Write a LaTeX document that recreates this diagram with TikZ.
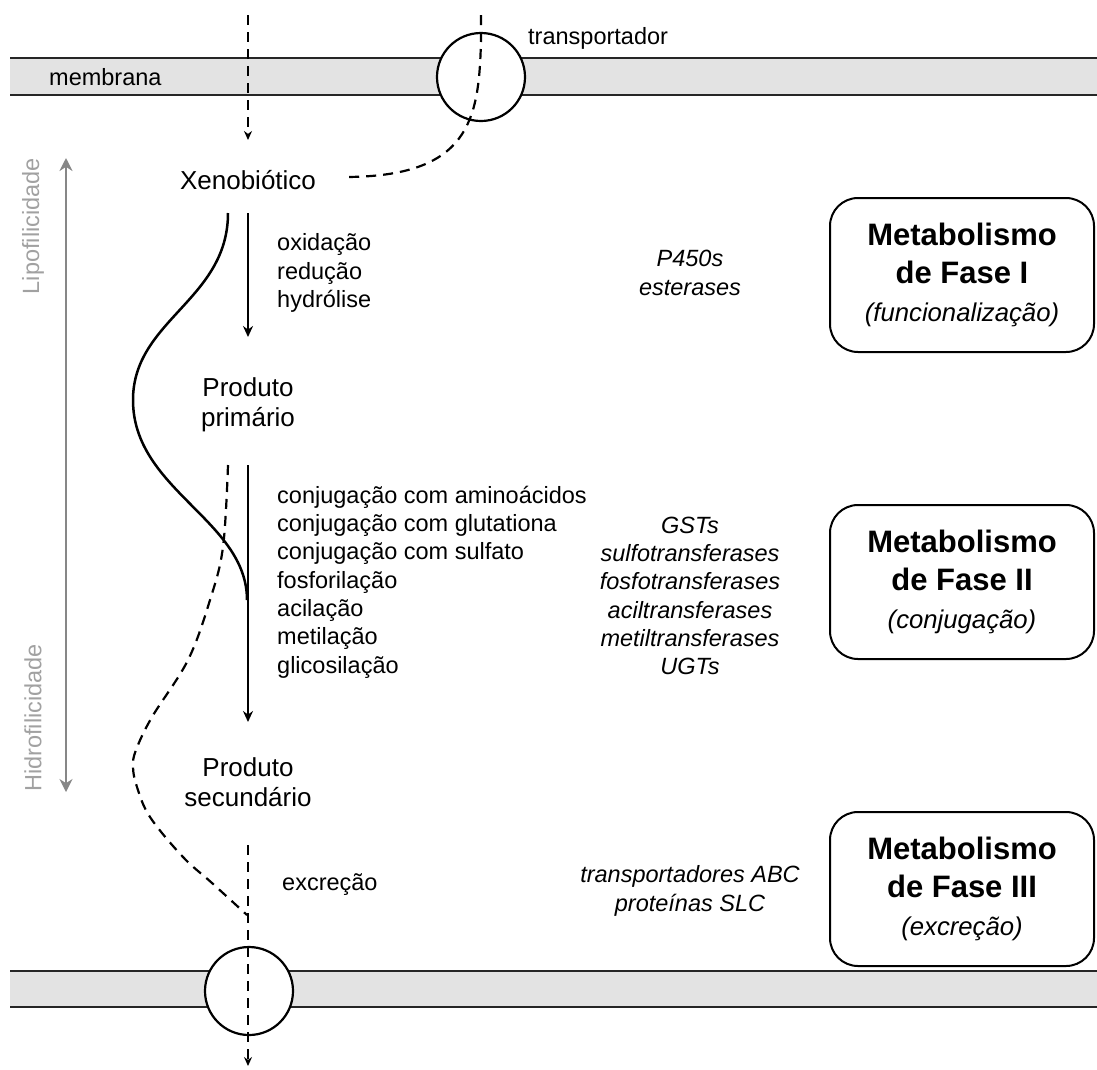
\documentclass[tikz,border=0pt]{standalone}
\usepackage{fontspec}
\setmainfont{Liberation Sans}
\usetikzlibrary{arrows.meta,calc,positioning}

\tikzset{
  rotulo/.style={font=\fontsize{23.5}{28.3}\selectfont, inner sep=0pt},
  enzima/.style={font=\fontsize{23.5}{28.3}\selectfont\itshape, inner sep=0pt, align=center},
  estado/.style={font=\fontsize{26}{30.5}\selectfont, inner sep=0pt, align=center},
  fase/.style={draw, line width=2pt, rounded corners=28pt, minimum width=264pt,
    minimum height=154pt, align=center, inner sep=0pt, font=\fontsize{31}{38}\selectfont\bfseries},
  seta/.style={line width=2pt, -{Stealth[length=11pt,width=10pt]}},
  tracejado/.style={line width=2.2pt, dash pattern=on 10pt off 7pt},
  pontaT/.style={-{Stealth[length=9pt,width=8pt]}},
  canal/.style={circle, draw, fill=white, line width=2.2pt, minimum size=88pt, inner sep=0pt},
  membrana/.style={line width=2.5pt, draw=black!85},
}
\newcommand{\subtit}[1]{{\fontsize{25.7}{33}\selectfont\mdseries\itshape #1}}

\begin{document}
\begin{tikzpicture}[x=1pt,y=-1pt]
\useasboundingbox (0,0) rectangle (1097,1069);
% membranas
\fill[black!11] (10,58) rectangle (1097,95);
\draw[membrana] (10,58) -- (1097,58) (10,95) -- (1097,95);
\fill[black!11] (10,971) rectangle (1097,1007);
\draw[membrana] (10,971) -- (1097,971) (10,1007) -- (1097,1007);
\node[rotulo, anchor=west] (memb) at (49,77) {membrana};

% canais
\node[canal] (canal1) at (481,77) {};
\node[canal] (canal2) at (249,991) {};
\node[rotulo, anchor=west] (transp) at (528,38) {transportador};

% estados
\node[estado] (xeno) at (248,180) {Xenobiótico};
\node[estado] (prim) at (248,405) {Produto\\primário};
\node[estado] (sec) at (248,782) {Produto\\secundário};

% reacoes
\node[rotulo, anchor=west, align=left] (reac1) at (277,273) {oxidação\\redução\\hydrólise};
\node[rotulo, anchor=west, align=left] (reac2) at (277,582) {conjugação com aminoácidos\\conjugação com glutationa\\conjugação com sulfato\\fosforilação\\acilação\\metilação\\glicosilação};
\node[rotulo, anchor=west] (excr) at (282,885) {excreção};

% enzimas
\node[enzima] (enz1) at (690,273) {P450s\\esterases};
\node[enzima] (enz2) at (690,596) {GSTs\\sulfotransferases\\fosfotransferases\\aciltransferases\\metiltransferases\\UGTs};
\node[enzima] (enz3) at (690,891) {transportadores ABC\\proteínas SLC};

% fases
\node[fase] (fase1) at (962,275) {Metabolismo\\de Fase I\\\subtit{(funcionalização)}};
\node[fase] (fase2) at (962,582) {Metabolismo\\de Fase II\\\subtit{(conjugação)}};
\node[fase] (fase3) at (962,889) {Metabolismo\\de Fase III\\\subtit{(excreção)}};

% setas
\draw[seta] ($(xeno)+(0,33)$) -- ($(prim)+(0,-68)$);
\draw[seta] ($(prim)+(0,60)$) -- ($(sec)+(0,-60)$);
\coordinate (entrada) at (248,15);
\draw[tracejado, pontaT] (entrada) -- ($(xeno)+(0,-40)$);
\coordinate (topo) at (481,15);
\draw[tracejado] (topo) -- (481,40) .. controls (479,120) and (470,177) .. ($(xeno)+(96,-3)$);
\coordinate (saida) at (248,1066);
\draw[tracejado, pontaT] ($(sec)+(0,63)$) -- (saida);

% curvas
\draw[line width=2.5pt] (228,213) .. controls (228,300) and (133,320) .. (133,400)
  .. controls (133,490) and (247,520) .. (247,600);
\draw[tracejado] plot[smooth, tension=0.6] coordinates {(228,465) (223,547) (210,600) (188,660)
  (152,717) (136,750) (133,767) (137,787) (150,817) (183,857) (212,883) (247,915)};

% lipofilicidade
\draw[line width=2.5pt, draw=black!47, {Stealth[length=13pt,width=13pt]}-{Stealth[length=13pt,width=13pt]}] (66,158) -- (66,792);
\node[rotulo, text=black!37, rotate=90, anchor=east] (lipo) at (33,158) {Lipofilicidade};
\node[rotulo, text=black!37, rotate=90, anchor=west] (hidro) at (33,792) {Hidrofilicidade};
\end{tikzpicture}
\end{document}
